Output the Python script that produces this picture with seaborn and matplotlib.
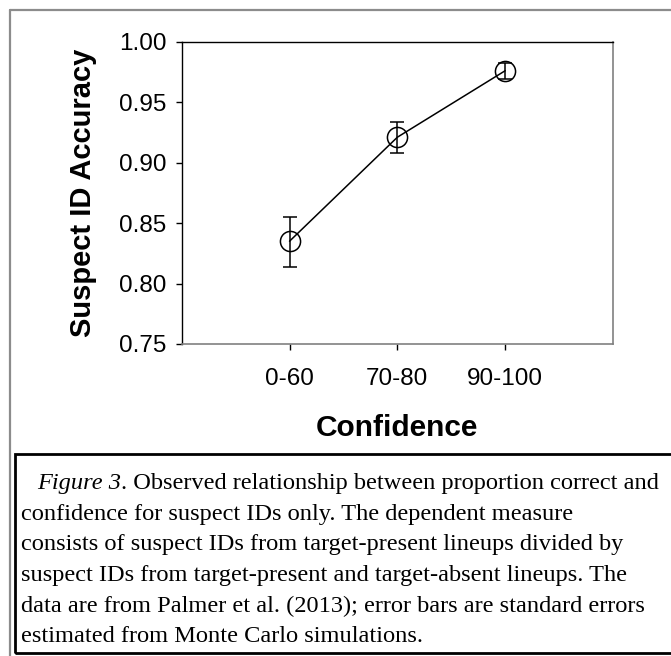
import matplotlib
matplotlib.use("Agg")
import matplotlib.pyplot as plt
import matplotlib.patches as patches
import matplotlib.lines as mlines
import seaborn as sns
import pandas as pd

# data
confidence = ["0-60", "70-80", "90-100"]
accuracy = [0.835, 0.921, 0.976]
err_low = [0.814, 0.908, 0.969]
err_high = [0.855, 0.934, 0.982]

yticks = [0.75, 0.80, 0.85, 0.90, 0.95, 1.00]

caption_lines = [
    ". Observed relationship between proportion correct and",
    "confidence for suspect IDs only. The dependent measure",
    "consists of suspect IDs from target-present lineups divided by",
    "suspect IDs from target-present and target-absent lineups. The",
    "data are from Palmer et al. (2013); error bars are standard errors",
    "estimated from Monte Carlo simulations.",
]

sns.set_style("white")
plt.rcParams['font.family'] = ['Liberation Sans', 'DejaVu Sans']
plt.rcParams['text.color'] = 'black'
plt.rcParams['axes.labelcolor'] = 'black'

W, H = 671, 656
fig = plt.figure(figsize=(W / 100, H / 100), dpi=100)
ax = fig.add_axes([181.7 / W, 1 - 344 / H, (613 - 181.7) / W, (344 - 41.7) / H])

df = pd.DataFrame({'Confidence': confidence, 'Accuracy': accuracy})
sns.lineplot(data=df, x='Confidence', y='Accuracy', ax=ax, color='black',
             linewidth=1.1, marker='o', markersize=14.5, markerfacecolor='none',
             markeredgecolor='black', markeredgewidth=1.1, sort=False)

yerr = [[a - l for a, l in zip(accuracy, err_low)],
        [h - a for a, h in zip(accuracy, err_high)]]
ax.errorbar(range(len(confidence)), accuracy, yerr=yerr, fmt='none',
            ecolor='black', elinewidth=1.1, capsize=4.8, capthick=1.1)

ax.set_xlim(-1, 3)
ax.set_ylim(0.75, 1.00)
ax.set_yticks(yticks)
ax.set_yticklabels([f"{v:.2f}" for v in yticks])
ax.set_xticks(range(len(confidence)))
ax.set_xticklabels(confidence)

ax.tick_params(axis='y', which='major', left=True, direction='out', length=4,
               width=1, pad=7, labelsize=17.5, colors='black')
ax.tick_params(axis='x', which='major', bottom=True, direction='out', length=4,
               width=1, pad=13, labelsize=17.5, colors='black')

for side in ['left', 'top']:
    ax.spines[side].set_color('black')
    ax.spines[side].set_linewidth(1)
for side in ['right', 'bottom']:
    ax.spines[side].set_color('#808080')
    ax.spines[side].set_linewidth(1.2)

ax.set_ylabel("Suspect ID Accuracy", fontsize=21, fontweight='bold', va='center',
              color='black')
ax.yaxis.set_label_coords((83 - 181.7) / (613 - 181.7), 0.5)
ax.set_xlabel("Confidence", fontsize=21.5, fontweight='bold', va='center',
              color='black')
ax.xaxis.set_label_coords(0.5, -(428 - 344) / (344 - 41.7))

# outer gray frame (runs off the right and bottom edges)
fig.add_artist(mlines.Line2D([10 / W, 10 / W], [1 - 10 / H, 0], color='#8c8c8c',
                             linewidth=1.6, transform=fig.transFigure))
fig.add_artist(mlines.Line2D([10 / W, 1], [1 - 10 / H, 1 - 10 / H], color='#8c8c8c',
                             linewidth=1.6, transform=fig.transFigure))

# caption box
fig.add_artist(patches.Rectangle((15 / W, 1 - 653 / H), (700 - 15) / W, (653 - 454) / H,
                                 fill=False, edgecolor='black', linewidth=2,
                                 transform=fig.transFigure))

serif = ['Liberation Serif', 'DejaVu Serif']
cap_size = 17.6
centers = [482, 512.6, 543.3, 574, 604.6, 635.3]
renderer = fig.canvas.get_renderer()
t0 = fig.text(36.7 / W, 1 - (centers[0] + 7) / H, "Figure 3", family=serif,
              style='italic', fontsize=cap_size, va='baseline', ha='left',
              color='black')
bb = t0.get_window_extent(renderer=renderer)
fig.text(bb.x1 / W, 1 - (centers[0] + 7) / H, caption_lines[0], family=serif,
         fontsize=cap_size, va='baseline', ha='left', color='black')
for line, c in zip(caption_lines[1:], centers[1:]):
    fig.text(20.7 / W, 1 - (c + 7) / H, line, family=serif, fontsize=cap_size,
             va='baseline', ha='left', color='black')

fig.savefig("out.png", dpi=100)
